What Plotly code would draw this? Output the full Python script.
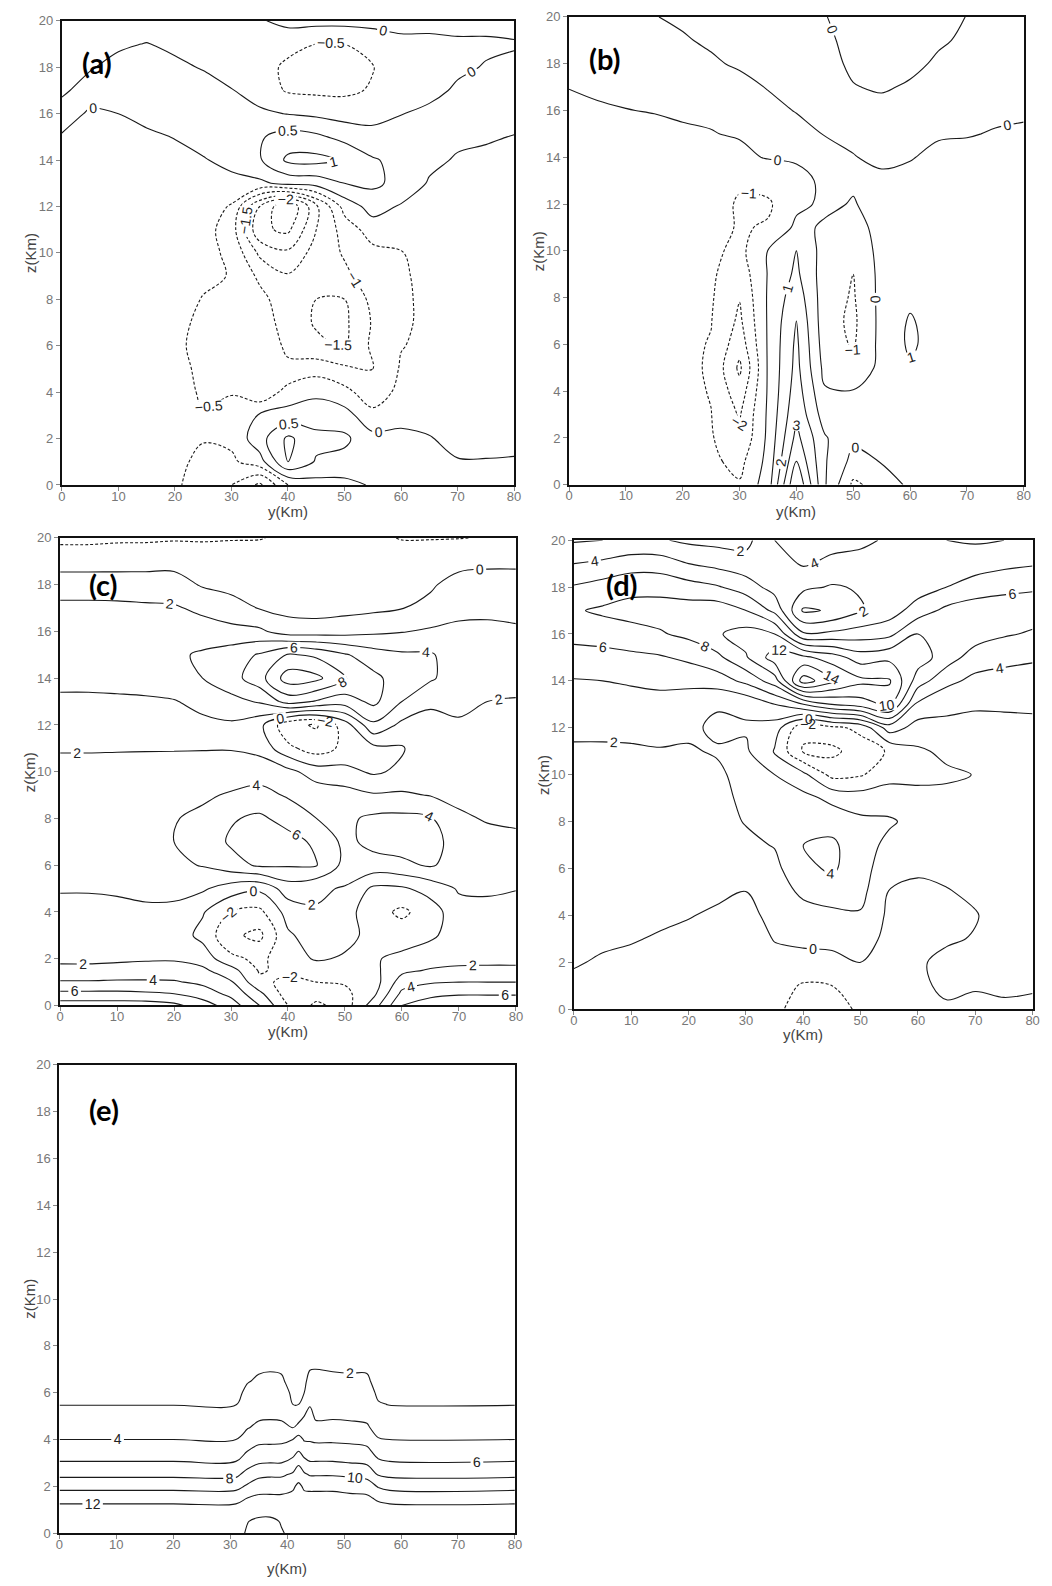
import numpy as np
import plotly.graph_objects as go

W, H = 1052, 1586

# ---------------- coordinates ----------------
Y_KM = [0, 5, 10, 15, 20, 25, 30, 35, 40, 45, 50, 55, 60, 65, 70, 75, 80]
Z_KM = list(range(21))
Z_C = [0, 0.5, 1, 1.5, 2, 3, 4, 5, 6, 7, 8, 9, 10, 11, 12, 13, 14, 15, 16, 17, 18, 19, 20]
Y_E = [0, 20, 31, 33, 35, 37, 39, 41, 42, 43, 44, 45, 48, 51, 54, 56, 58, 80]
Z_E = [0, 0.5, 1, 1.5, 2, 2.5, 3, 3.5, 4, 4.5, 5, 5.5, 6, 6.5, 7, 8, 20]

X_TICKS = [0, 10, 20, 30, 40, 50, 60, 70, 80]
Z_TICKS = [0, 2, 4, 6, 8, 10, 12, 14, 16, 18, 20]

# ---------------- panel (a): one column per y in Y_KM, values for z = 0..20 ----------------
A_COLS = [
    [-0.2]*13 + [-0.17, -0.12, -0.02, 0.1, -0.04, -0.15, -0.2, -0.25],
    [-0.22]*13 + [-0.2, -0.16, -0.1, -0.03, 0.1, -0.02, -0.15, -0.25],
    [-0.22]*13 + [-0.2, -0.15, -0.08, 0.0, 0.12, 0.08, -0.04, -0.2],
    [-0.25]*12 + [-0.22, -0.18, -0.12, -0.05, 0.08, 0.15, 0.1, 0.01, -0.15],
    [-0.42, -0.38, -0.33, -0.3, -0.32, -0.36, -0.42, -0.4, -0.33, -0.3, -0.28, -0.25, -0.2, -0.15, -0.08, 0.01, 0.12, 0.15, 0.06, -0.06, -0.15],
    [-0.75, -0.62, -0.47, -0.48, -0.56, -0.6, -0.62, -0.58, -0.52, -0.42, -0.35, -0.3, -0.22, -0.13, -0.03, 0.15, 0.22, 0.12, -0.02, -0.12, -0.15],
    [-1.0, -0.6, -0.38, -0.38, -0.52, -0.56, -0.5, -0.55, -0.58, -0.52, -0.6, -0.75, -0.55, -0.12, 0.12, 0.3, 0.25, 0.02, -0.15, -0.15, -0.15],
    [-1.6, -0.2, 0.3, 0.05, -0.9, -0.75, -0.65, -0.7, -0.85, -1.1, -1.6, -2.4, -2.0, -0.1, 0.45, 0.45, 0.1, -0.25, -0.3, -0.25, -0.05],
    [-0.5, 1.0, 1.1, 0.2, -0.3, -0.9, -1.1, -1.25, -1.3, -1.45, -1.9, -2.6, -3.0, 0.15, 1.1, 0.7, -0.02, -0.55, -0.6, -0.35, 0.15],
    [-0.2, 0.45, 0.65, 0.25, -0.1, -0.7, -1.4, -1.55, -1.5, -1.35, -1.3, -1.5, -1.6, 0.2, 1.15, 0.6, -0.1, -0.6, -0.68, -0.5, 0.15],
    [-0.15, 0.35, 0.6, 0.2, -0.35, -0.9, -1.55, -1.6, -1.5, -1.1, -0.95, -0.8, -0.3, 0.5, 0.95, 0.35, -0.2, -0.6, -0.7, -0.5, 0.15],
    [0.05, 0.2, 0.15, -0.35, -0.8, -1.0, -0.9, -0.95, -0.85, -0.75, -0.65, -0.25, 0.2, 0.6, 0.55, 0.15, -0.15, -0.45, -0.52, -0.3, 0.15],
    [0.25, 0.3, 0.12, -0.15, -0.35, -0.45, -0.52, -0.56, -0.56, -0.55, -0.52, -0.3, -0.05, 0.35, 0.35, 0.15, -0.01, -0.2, -0.25, -0.12, 0.15],
    [0.22, 0.2, 0.02, -0.12, -0.3, -0.35, -0.4, -0.42, -0.42, -0.4, -0.36, -0.28, -0.18, -0.05, 0.12, 0.2, 0.08, -0.1, -0.15, -0.1, 0.12],
    [0.18, 0.02, -0.1, -0.2, -0.22, -0.25, -0.28, -0.3, -0.3, -0.28, -0.25, -0.2, -0.15, -0.08, -0.05, 0.1, 0.15, 0.05, -0.06, -0.05, 0.1],
    [0.15, 0.02, -0.12, -0.15, -0.18, -0.2, -0.22, -0.22, -0.22, -0.2, -0.18, -0.15, -0.12, -0.1, -0.06, 0.03, 0.12, 0.1, 0.02, -0.05, 0.1],
    [0.15, 0.03, -0.1, -0.12, -0.15, -0.18, -0.2, -0.2, -0.2, -0.18, -0.15, -0.12, -0.1, -0.08, -0.05, -0.01, 0.1, 0.1, 0.05, -0.02, 0.08],
]

# ---------------- panel (b) ----------------
B_COLS = [
    [-0.45]*7 + [-0.42, -0.4, -0.38, -0.35, -0.32, -0.3, -0.25, -0.2, -0.15, -0.1, 0.01, 0.12, 0.15, 0.15],
    [-0.5]*7 + [-0.47, -0.45, -0.42, -0.4, -0.36, -0.32, -0.28, -0.22, -0.18, -0.06, 0.08, 0.15, 0.18, 0.15],
    [-0.55]*7 + [-0.52, -0.5, -0.47, -0.44, -0.4, -0.35, -0.3, -0.24, -0.15, -0.01, 0.1, 0.18, 0.2, 0.15],
    [-0.58, -0.6, -0.62, -0.64, -0.66, -0.68, -0.68, -0.66, -0.63, -0.6, -0.55, -0.48, -0.4, -0.3, -0.2, -0.12, 0.02, 0.12, 0.15, 0.1, 0.01],
    [-0.6, -0.65, -0.7, -0.72, -0.75, -0.78, -0.8, -0.78, -0.75, -0.7, -0.6, -0.5, -0.4, -0.3, -0.15, -0.05, 0.05, 0.12, 0.1, 0.03, -0.05],
    [-0.7, -0.8, -0.9, -0.98, -1.05, -1.1, -1.05, -0.97, -0.9, -0.85, -0.75, -0.6, -0.45, -0.3, -0.15, -0.02, 0.08, 0.12, 0.05, -0.05, -0.1],
    [-0.9, -1.3, -1.9, -2.1, -2.6, -3.2, -2.6, -2.2, -1.95, -1.6, -1.3, -1.1, -1.15, -0.8, -0.15, 0.05, 0.1, 0.12, -0.05, -0.15, -0.2],
    [0.5, 0.3, 0.2, 0.15, 0.1, 0.1, 0.1, 0.1, 0.1, 0.05, 0.02, -0.9, -1.15, -0.6, 0.05, 0.12, 0.12, -0.02, -0.1, -0.15, -0.2],
    [5.0, 4.0, 3.3, 2.8, 2.5, 2.3, 2.2, 2.0, 1.6, 1.2, 1.0, 0.2, -0.2, -0.25, 0.1, 0.15, -0.02, -0.1, -0.2, -0.25, -0.3],
    [1.1, 1.1, 1.1, 0.5, 0.1, -0.3, -0.5, -0.6, -0.55, -0.5, -0.4, -0.1, 0.15, 0.15, 0.2, -0.02, -0.1, -0.15, -0.15, -0.1, -0.02],
    [-1.2, -0.3, 0.2, 0.15, 0.05, -0.8, -1.1, -1.2, -1.1, -1.0, -0.8, -0.4, -0.05, 0.1, 0.02, -0.1, -0.12, -0.02, 0.08, 0.15, 0.2],
    [-0.6, 0.05, 0.3, 0.4, 0.4, 0.3, 0.3, 0.3, 0.3, 0.3, 0.35, 0.35, 0.3, 0.1, -0.1, -0.2, -0.15, 0.05, 0.3, 0.35, 0.35],
    [0.2, 0.3, 0.4, 0.45, 0.6, 0.9, 1.15, 1.1, 0.8, 0.6, 0.5, 0.4, 0.3, 0.15, -0.03, -0.1, -0.1, -0.05, 0.1, 0.2, 0.25],
    [0.2, 0.25, 0.3, 0.35, 0.4, 0.45, 0.6, 0.55, 0.45, 0.4, 0.35, 0.3, 0.25, 0.2, 0.12, -0.05, -0.08, -0.12, -0.06, 0.05, 0.15],
    [0.2, 0.25, 0.3, 0.3, 0.3, 0.3, 0.3, 0.3, 0.3, 0.3, 0.28, 0.25, 0.2, 0.18, 0.1, -0.02, -0.08, -0.1, -0.1, -0.06, -0.01],
    [0.2, 0.22, 0.25, 0.25, 0.25, 0.25, 0.25, 0.25, 0.25, 0.22, 0.2, 0.2, 0.18, 0.15, 0.1, 0.02, -0.06, -0.1, -0.12, -0.15, -0.15],
    [0.2, 0.22, 0.25, 0.25, 0.25, 0.25, 0.25, 0.25, 0.25, 0.22, 0.2, 0.2, 0.18, 0.15, 0.1, 0.05, -0.05, -0.1, -0.12, -0.15, -0.15],
]

# ---------------- panel (c): values for z in Z_C ----------------
C_COLS = [
    [9, 6.5, 4.2, 2.5, 1.6, 1.4, 1.6, 2.1, 2.6, 3.0, 3.0, 2.8, 2.4, 1.9, 1.7, 1.8, 2.3, 2.8, 2.8, 2.4, 1.2, -1.0, -2.4],
    [9, 6.5, 4.2, 2.5, 1.6, 1.4, 1.6, 2.1, 2.7, 3.1, 3.1, 2.9, 2.4, 1.9, 1.7, 1.8, 2.3, 2.9, 2.9, 2.4, 1.2, -1.0, -2.4],
    [9, 6.5, 4.3, 2.6, 1.7, 1.4, 1.6, 2.2, 2.9, 3.3, 3.3, 3.0, 2.5, 1.9, 1.7, 1.8, 2.4, 3.0, 3.0, 2.4, 1.1, -0.9, -2.3],
    [9, 6.3, 4.3, 2.7, 1.8, 1.5, 1.7, 2.4, 3.2, 3.6, 3.6, 3.2, 2.6, 1.9, 1.6, 1.8, 2.6, 3.2, 3.1, 2.3, 1.0, -0.8, -2.3],
    [8.5, 6.0, 4.2, 2.8, 1.8, 1.2, 1.5, 2.6, 3.6, 4.0, 3.9, 3.4, 2.7, 1.9, 1.6, 1.9, 3.0, 3.6, 3.0, 2.2, 0.9, -0.7, -2.2],
    [7, 5.0, 3.6, 2.4, 1.2, -0.6, 0.2, 2.3, 4.1, 4.7, 4.4, 3.7, 2.9, 1.9, 1.6, 2.5, 4.0, 4.3, 2.8, 1.6, -0.2, -1.0, -2.2],
    [5, 3.5, 2.2, 0.8, -1.5, -3.6, -2.0, 1.0, 5.2, 6.3, 5.8, 4.2, 3.0, 1.9, 1.7, 3.4, 5.2, 5.0, 2.6, 0.8, -0.6, -1.2, -2.1],
    [2, 0.5, -1.5, -2.2, -2.5, -4.5, -2.5, 0.4, 6.3, 7.0, 6.4, 4.6, 3.2, 1.4, 0.6, 4.2, 7.2, 6.2, 2.4, -0.1, -0.8, -1.4, -2.05],
    [-2, -3, -2.5, -1.5, -0.8, -0.3, 0.8, 3.0, 6.2, 6.8, 5.2, 3.8, 2.6, -1.5, -3.5, 6.8, 11.0, 8.2, 1.0, -0.6, -1.0, -1.3, -1.8],
    [-4.5, -3, -2, -1.0, 0.2, 1.0, 1.8, 2.4, 6.1, 5.6, 4.0, 3.2, 1.0, -3.0, -4.2, 5.8, 10.5, 7.6, 1.0, -0.8, -0.9, -1.0, -1.5],
    [-3, -2.5, -1.8, -1.0, -0.2, 0.5, 0.8, 1.8, 3.4, 3.5, 3.6, 2.8, 0.6, -1.5, -1.0, 5.0, 8.2, 6.2, 1.2, -0.6, -0.8, -1.0, -1.3],
    [1, -0.5, -1.0, -0.5, -0.2, -0.5, -1.2, -0.4, 3.2, 4.6, 4.4, 2.2, -0.3, -0.6, 3.6, 6.5, 6.5, 4.9, 1.6, -0.4, -0.7, -1.0, -1.6],
    [6, 4.5, 3, 1.5, 0.5, -1.0, -2.4, -0.3, 3.6, 4.8, 4.5, 2.3, 0.4, -0.2, 1.5, 4.0, 5.0, 4.3, 1.9, -0.05, -0.3, -1.0, -2.1],
    [7, 5.5, 3.8, 2.2, 1.0, -0.3, -1.0, 0.8, 4.2, 4.6, 4.2, 1.9, 1.7, 1.7, 1.8, 2.1, 4.3, 4.2, 2.3, 0.4, -0.2, -0.8, -2.1],
    [7.5, 5.8, 4.0, 2.4, 1.4, 0.8, 1.3, 2.2, 3.2, 3.3, 2.2, 1.7, 1.6, 1.7, 1.9, 2.2, 2.8, 3.0, 2.4, 1.5, 0.6, -0.5, -2.05],
    [7.5, 5.8, 4.0, 2.4, 1.5, 1.2, 1.6, 2.2, 2.5, 2.4, 1.9, 1.65, 1.6, 1.7, 1.8, 2.0, 2.3, 2.5, 2.3, 1.7, 0.8, -0.4, -1.9],
    [7.5, 5.8, 4.0, 2.4, 1.5, 1.2, 1.5, 2.05, 2.3, 2.2, 1.85, 1.65, 1.6, 1.7, 1.8, 1.95, 2.25, 2.4, 2.2, 1.6, 0.8, -0.4, -1.8],
]

# ---------------- panel (d): values for z = 0..20 ----------------
D_COLS = [
    [-0.8, -0.4, 0.15, 0.5, 0.7, 0.9, 1.0, 1.1, 1.2, 1.3, 1.5, 1.8, 2.3, 3.2, 3.9, 5.0, 6.8, 7.8, 6.2, 4.0, 1.8],
    [-1.0, -0.7, -0.2, 0.3, 0.6, 0.8, 1.0, 1.1, 1.2, 1.3, 1.5, 1.8, 2.3, 3.2, 4.0, 5.2, 7.0, 8.3, 6.8, 4.4, 2.0],
    [-1.1, -0.9, -0.5, 0.15, 0.5, 0.8, 1.0, 1.1, 1.2, 1.3, 1.5, 1.8, 2.4, 3.3, 4.2, 5.5, 7.4, 8.6, 7.5, 5.0, 2.4],
    [-1.2, -1.0, -0.7, -0.2, 0.4, 0.8, 1.0, 1.2, 1.3, 1.4, 1.6, 1.9, 2.5, 3.4, 4.4, 5.8, 7.8, 8.8, 7.4, 5.0, 2.2],
    [-1.2, -1.1, -0.9, -0.5, 0.1, 0.6, 0.9, 1.1, 1.3, 1.4, 1.6, 1.9, 2.2, 2.8, 4.6, 6.4, 8.5, 9.0, 6.8, 4.0, 1.6],
    [-1.2, -1.1, -1.0, -0.8, -0.3, 0.35, 0.8, 1.1, 1.4, 1.6, 1.8, 2.1, 1.8, 2.1, 5.0, 7.5, 9.8, 9.2, 6.2, 3.4, 1.4],
    [-1.2, -1.2, -1.1, -1.0, -0.6, -0.05, 0.7, 1.6, 2.1, 2.3, 2.4, 2.3, 1.8, 2.4, 6.5, 9.8, 10.8, 8.0, 5.0, 2.8, 1.4],
    [-1.5, -1.2, -0.6, 0.1, 0.6, 1.0, 1.5, 2.1, 2.5, 2.6, 2.0, -0.2, 1.0, 4.0, 9.0, 13.0, 10.0, 5.5, 3.2, 3.2, 4.0],
    [-3.0, -2.2, -0.6, 0.4, 1.2, 2.4, 3.5, 4.0, 3.4, 2.6, 0.5, -4.2, -3.5, 6.0, 17.0, 12.5, 4.3, -0.3, 2.5, 4.2, 5.0],
    [-3.2, -2.0, -0.5, 0.5, 1.5, 3.0, 4.3, 4.4, 3.2, 1.5, -2.6, -4.5, -2.5, 8.0, 14.5, 11.0, 4.5, 0.2, 1.8, 3.6, 4.6],
    [-1.5, -1.0, 0.0, 0.8, 1.8, 2.6, 2.8, 2.7, 2.4, 1.0, -2.2, -3.0, -1.5, 9.0, 12.5, 9.0, 5.0, 1.8, 2.2, 3.5, 4.3],
    [-0.8, -0.6, -0.6, -0.5, -0.4, -0.1, 0.8, 1.6, 2.2, 1.2, -0.8, -1.8, 3.0, 10.5, 12.3, 9.5, 5.5, 3.0, 2.5, 3.0, 3.8],
    [-0.4, -0.3, -0.2, -0.5, -0.6, -0.3, 0.2, 0.8, 1.5, 0.6, -0.5, -0.3, 1.2, 3.5, 7.0, 9.0, 8.0, 5.0, 3.0, 2.6, 3.0],
    [-0.2, 0.3, 0.4, -0.2, -0.4, -0.1, 0.4, 0.8, 0.9, 0.5, -0.3, 0.4, 1.4, 2.6, 4.5, 7.0, 8.0, 6.5, 4.0, 2.2, 2.0],
    [-0.3, 0.1, 0.5, 0.1, -0.1, 0.3, 0.6, 0.8, 0.9, 0.6, 0.05, 0.7, 1.5, 2.2, 3.5, 5.0, 7.0, 7.0, 5.0, 3.0, 1.8],
    [-0.2, 0.2, 0.5, 0.6, 0.7, 0.8, 0.9, 1.0, 1.0, 0.9, 0.9, 1.1, 1.6, 2.2, 3.2, 4.6, 6.2, 7.0, 5.5, 3.5, 2.0],
    [-0.1, 0.05, 0.5, 0.6, 0.7, 0.8, 0.9, 1.0, 1.0, 1.0, 1.0, 1.2, 1.7, 2.2, 3.0, 4.3, 5.8, 6.8, 5.8, 3.8, 2.2],
]

# ---------------- panel (e): one column per y in Y_E, values for z in Z_E ----------------
E_COLS = [
    [13.5, 13.2, 12.7, 11.3, 9.3, 7.6, 6.15, 5.0, 4.0, 3.3, 2.6, 1.95, 1.6, 1.3, 1.1, 0.9, 0.3],
    [13.5, 13.2, 12.7, 11.3, 9.3, 7.6, 6.15, 5.0, 4.0, 3.3, 2.6, 1.95, 1.6, 1.3, 1.1, 0.9, 0.3],
    [13.5, 13.2, 12.7, 11.3, 9.3, 7.6, 6.15, 5.0, 4.0, 3.3, 2.6, 1.95, 1.6, 1.3, 1.1, 0.9, 0.3],
    [14.15, 13.95, 13.3, 12.0, 10.3, 8.67, 7.25, 6.0, 4.89, 3.89, 3.37, 2.84, 2.32, 1.9, 1.6, 1.15, 0.3],
    [14.5, 14.3, 13.4, 12.4, 11.08, 9.5, 7.88, 6.63, 5.47, 4.42, 3.7, 3.2, 2.7, 2.2, 1.85, 1.3, 0.3],
    [14.5, 14.35, 13.4, 12.35, 11.23, 9.67, 8.0, 6.75, 5.47, 4.53, 3.77, 3.3, 2.84, 2.37, 1.9, 1.35, 0.3],
    [14.1, 13.9, 13.3, 12.35, 11.23, 9.67, 8.0, 6.75, 5.56, 4.44, 3.7, 3.2, 2.7, 2.2, 1.85, 1.3, 0.3],
    [13.7, 13.5, 13.1, 12.5, 11.71, 10.29, 8.67, 7.25, 6.0, 4.0, 3.0, 2.0, 1.7, 1.45, 1.25, 1.0, 0.3],
    [13.7, 13.6, 13.4, 13.0, 12.4, 11.14, 9.67, 8.0, 6.75, 4.67, 3.11, 2.0, 1.7, 1.45, 1.25, 1.0, 0.3],
    [13.7, 13.5, 13.1, 12.5, 11.71, 10.29, 8.67, 7.14, 5.82, 4.91, 4.0, 3.0, 2.0, 1.65, 1.4, 1.1, 0.3],
    [13.7, 13.5, 13.2, 12.6, 11.54, 9.83, 8.17, 6.88, 5.81, 5.16, 4.52, 3.87, 3.2, 2.53, 1.95, 1.4, 0.3],
    [13.8, 13.6, 13.2, 12.6, 11.54, 9.83, 8.17, 6.88, 5.65, 4.47, 3.74, 3.3, 2.87, 2.43, 2.0, 1.4, 0.3],
    [13.8, 13.6, 13.2, 12.6, 11.54, 9.83, 8.17, 6.88, 5.67, 4.56, 3.77, 3.3, 2.84, 2.37, 1.9, 1.35, 0.3],
    [13.8, 13.6, 13.2, 12.5, 11.23, 9.67, 8.0, 6.75, 5.56, 4.44, 3.71, 3.24, 2.76, 2.29, 1.85, 1.3, 0.3],
    [13.7, 13.5, 13.1, 12.4, 11.0, 9.33, 7.75, 6.5, 5.33, 4.22, 3.64, 3.18, 2.73, 2.27, 1.85, 1.3, 0.3],
    [13.6, 13.3, 12.9, 11.6, 9.82, 7.86, 6.43, 5.22, 4.11, 3.42, 2.77, 2.13, 1.7, 1.4, 1.2, 1.0, 0.3],
    [13.5, 13.2, 12.7, 11.3, 9.3, 7.6, 6.15, 5.0, 4.0, 3.3, 2.6, 1.95, 1.6, 1.3, 1.1, 0.9, 0.3],
    [13.5, 13.2, 12.7, 11.3, 9.3, 7.6, 6.15, 5.0, 4.0, 3.3, 2.6, 1.95, 1.6, 1.3, 1.1, 0.9, 0.3],
]

# contour levels (start, end, step) for dashed negatives and solid non-negatives
LEVELS = {
    'a': ((-3.0, -0.5, 0.5), (0.0, 1.5, 0.5)),
    'b': ((-3.0, -1.0, 1.0), (0.0, 6.0, 1.0)),
    'c': ((-4.0, -2.0, 2.0), (0.0, 10.0, 2.0)),
    'd': ((-4.0, -2.0, 2.0), (0.0, 16.0, 2.0)),
    'e': (None, (2.0, 14.0, 2.0)),
}

# plot boxes in pixels: left, top, right, bottom
BOX = {
    'a': (58.5, 14.0, 515.5, 482.5),
    'b': (571.0, 10.0, 1030.5, 482.3),
    'c': (56.7, 536.0, 517.3, 1008.0),
    'd': (576.0, 538.3, 1039.5, 1011.7),
    'e': (56.0, 1068.0, 516.3, 1540.7),
}
XTITLE_GAP = {'a': 27, 'b': 27, 'c': 26, 'd': 26, 'e': 36}
PANEL_LABEL_POS = {'a': (94, 56), 'b': (607, 52), 'c': (101, 583), 'd': (625, 583), 'e': (101, 1113)}

PANELS = [
    ('a', Y_KM, Z_KM, A_COLS),
    ('b', Y_KM, Z_KM, B_COLS),
    ('c', Y_KM, Z_C, C_COLS),
    ('d', Y_KM, Z_KM, D_COLS),
    ('e', Y_E, Z_E, E_COLS),
]

BLACK = [[0, '#1a1a1a'], [1, '#1a1a1a']]
LABEL_FONT = dict(family='Liberation Sans', size=14, color='#222')

fig = go.Figure()
layout = {}
annotations = []

for i, (name, xs, zs, cols) in enumerate(PANELS, start=1):
    grid = np.array(cols, dtype=float).T
    xa = 'x' if i == 1 else 'x%d' % i
    ya = 'y' if i == 1 else 'y%d' % i
    neg, pos = LEVELS[name]
    for lv, dash in ((neg, '3px,2px'), (pos, 'solid')):
        if lv is None:
            continue
        fig.add_trace(go.Contour(
            x=xs, y=zs, z=grid, xaxis=xa, yaxis=ya,
            autocontour=False,
            contours=dict(start=lv[0], end=lv[1], size=lv[2], coloring='lines',
                          showlabels=True, labelfont=LABEL_FONT),
            colorscale=BLACK, showscale=False,
            line=dict(width=1.1, dash=dash, smoothing=1.0),
            hoverinfo='skip'))
    l, t, r, b = BOX[name]
    axis_common = dict(showline=True, linecolor='#111', linewidth=2, mirror=True,
                       ticks='outside', ticklen=4, tickwidth=1, tickcolor='#888',
                       tickfont=dict(family='Liberation Sans', size=13, color='#777'),
                       showgrid=False, zeroline=False, fixedrange=True)
    layout['xaxis' if i == 1 else 'xaxis%d' % i] = dict(
        domain=[l / W, r / W], range=[0, 80], anchor=ya, ticklabelstandoff=-6,
        tickmode='array', tickvals=X_TICKS, ticktext=[str(v) for v in X_TICKS], **axis_common)
    layout['yaxis' if i == 1 else 'yaxis%d' % i] = dict(
        domain=[1 - b / H, 1 - t / H], range=[0, 20], anchor=xa,
        tickmode='array', tickvals=Z_TICKS, ticktext=[str(v) for v in Z_TICKS], **axis_common)
    cx = (l + r) / 2
    cy = (t + b) / 2
    annotations.append(dict(x=cx / W, y=1 - (b + XTITLE_GAP[name]) / H, xref='paper', yref='paper',
                            text='y(Km)', showarrow=False, xanchor='center', yanchor='middle',
                            font=dict(family='Liberation Sans', size=15, color='#444')))
    annotations.append(dict(x=(l - 31) / W, y=1 - cy / H, xref='paper', yref='paper',
                            text='z(Km)', showarrow=False, textangle=-90, xanchor='center', yanchor='middle',
                            font=dict(family='Liberation Sans', size=15, color='#444')))
    px, py = PANEL_LABEL_POS[name]
    annotations.append(dict(x=px / W, y=1 - py / H, xref='paper', yref='paper',
                            text='<b>(%s)</b>' % name, showarrow=False, xanchor='center', yanchor='middle',
                            font=dict(family='Lato', size=29, color='black')))

fig.update_layout(width=W, height=H, margin=dict(l=0, r=0, t=0, b=0),
                  paper_bgcolor='white', plot_bgcolor='white', showlegend=False,
                  annotations=annotations, **layout)

fig.write_html('out.html')
